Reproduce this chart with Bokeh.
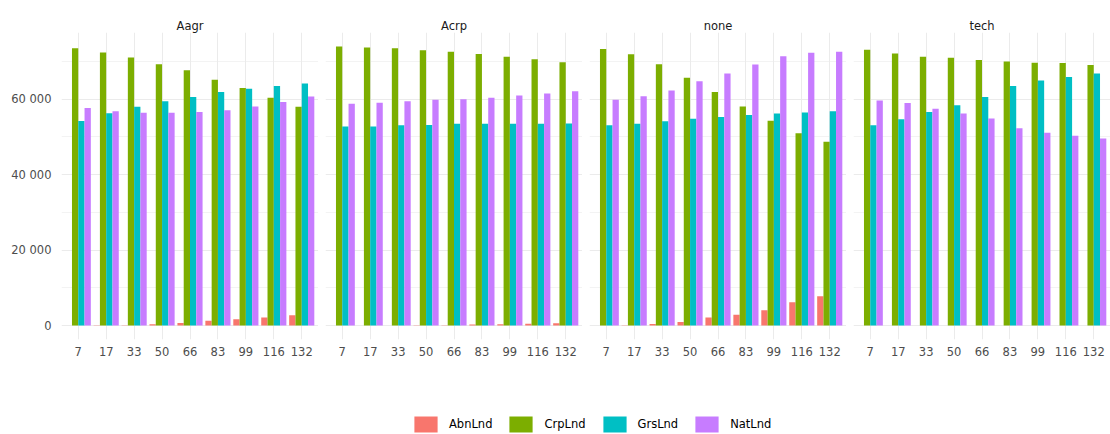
from bokeh.plotting import figure
from bokeh.layouts import row, column
from bokeh.models import (ColumnDataSource, FactorRange, Range1d, FixedTicker)
from bokeh.transform import dodge
from bokeh.embed import file_html
from bokeh.resources import INLINE

# ---------------- data ----------------
panels = ["Aagr", "Acrp", "none", "tech"]
categories = ["7", "17", "33", "50", "66", "83", "99", "116", "132"]
series = ["AbnLnd", "CrpLnd", "GrsLnd", "NatLnd"]
colors = ["#F8766D", "#7CAE00", "#00BFC4", "#C77CFF"]

aagr_abn = [0, 50, 100, 350, 650, 1250, 1700, 2150, 2750]
aagr_crp = [73500, 72400, 71100, 69300, 67700, 65200, 63000, 60400, 58000]
aagr_grs = [54250, 56300, 58000, 59500, 60600, 61900, 62800, 63500, 64200]
aagr_nat = [57700, 56800, 56400, 56400, 56600, 57100, 58100, 59300, 60700]

acrp_abn = [0, 0, 20, 50, 100, 270, 350, 450, 600]
acrp_crp = [74000, 73700, 73500, 73000, 72600, 72000, 71300, 70600, 69800]
acrp_grs = [52800, 52800, 53100, 53200, 53500, 53500, 53500, 53500, 53600]
acrp_nat = [58800, 59100, 59500, 59900, 60000, 60400, 61000, 61500, 62100]

none_abn = [0, 50, 440, 970, 2130, 2840, 4080, 6200, 7800]
none_crp = [73300, 71900, 69300, 65700, 61900, 58100, 54300, 51000, 48700]
none_grs = [53100, 53500, 54200, 54800, 55300, 55800, 56200, 56500, 56800]
none_nat = [59900, 60800, 62300, 64800, 66800, 69200, 71400, 72300, 72600]

tech_abn = [0, 0, 0, 0, 0, 0, 0, 0, 0]
tech_crp = [73100, 72100, 71300, 71000, 70400, 70000, 69700, 69600, 69100]
tech_grs = [53100, 54700, 56600, 58400, 60600, 63500, 65000, 65900, 66800]
tech_nat = [59700, 59000, 57500, 56200, 54900, 52300, 51100, 50300, 49600]

y_ticks = [0, 20000, 40000, 60000]
y_tick_labels = ["0", "20 000", "40 000", "60 000"]
y_minor_ticks = [10000, 30000, 50000, 70000]

panel_data = {
    "Aagr": [aagr_abn, aagr_crp, aagr_grs, aagr_nat],
    "Acrp": [acrp_abn, acrp_crp, acrp_grs, acrp_nat],
    "none": [none_abn, none_crp, none_grs, none_nat],
    "tech": [tech_abn, tech_crp, tech_grs, tech_nat],
}

FONT = "DejaVu Sans"
GRID = "#ebebeb"

all_vals = [v for p in panel_data.values() for s in p for v in s]
ymax = max(all_vals)
ypad = 0.05 * ymax

bar_w = 0.9 / len(series)
offsets = [(-0.45 + bar_w * (i + 0.5)) for i in range(len(series))]

figs = []
for k, name in enumerate(panels):
    first = (k == 0)
    p = figure(
        title=name,
        x_range=FactorRange(factors=categories, range_padding=0.1,
                            range_padding_units="absolute"),
        y_range=Range1d(-ypad, ymax + ypad),
        frame_width=257, frame_height=307,
        min_border_left=61 if first else 7,
        min_border_right=0, min_border_top=32, min_border_bottom=30,
        y_axis_location="left" if first else None,
        toolbar_location=None, output_backend="svg",
        outline_line_color=None, background_fill_color="white",
        border_fill_color="white",
    )
    src = ColumnDataSource(dict(cat=categories,
                                **{s: v for s, v in zip(series, panel_data[name])}))
    for s, c, off in zip(series, colors, offsets):
        p.vbar(x=dodge("cat", off, range=p.x_range), top=s, bottom=0,
               width=bar_w, source=src, fill_color=c, line_color=None)

    p.title.align = "center"
    p.title.text_font = FONT
    p.title.text_font_size = "11.5px"
    p.title.text_font_style = "normal"
    p.title.text_color = "#1a1a1a"
    p.title.standoff = 0

    p.xaxis.axis_line_color = None
    p.xaxis.major_tick_line_color = None
    p.xaxis.minor_tick_line_color = None
    p.xaxis.major_tick_out = 0
    p.xaxis.major_tick_in = 0
    p.xaxis.major_label_standoff = 7
    p.xaxis.major_label_text_font = FONT
    p.xaxis.major_label_text_font_size = "11.5px"
    p.xaxis.major_label_text_color = "#4d4d4d"

    if first:
        p.yaxis.ticker = FixedTicker(ticks=y_ticks, minor_ticks=y_minor_ticks)
        p.yaxis.major_label_overrides = dict(zip(y_ticks, y_tick_labels))
        p.yaxis.axis_line_color = None
        p.yaxis.major_tick_line_color = None
        p.yaxis.minor_tick_line_color = None
        p.yaxis.major_tick_out = 0
        p.yaxis.major_tick_in = 0
        p.yaxis.major_label_standoff = 6
        p.yaxis.major_label_text_font = FONT
        p.yaxis.major_label_text_font_size = "11.5px"
        p.yaxis.major_label_text_color = "#4d4d4d"

    p.ygrid.ticker = FixedTicker(ticks=y_ticks, minor_ticks=y_minor_ticks)
    p.ygrid.grid_line_color = GRID
    p.ygrid.grid_line_width = 1
    p.ygrid.minor_grid_line_color = GRID
    p.ygrid.minor_grid_line_width = 0.6
    p.xgrid.grid_line_color = GRID
    p.xgrid.grid_line_width = 1
    p.ygrid.level = "underlay"
    p.xgrid.level = "underlay"
    figs.append(p)

# ---------------- legend ----------------
leg = figure(width=1110, height=65, x_range=Range1d(0, 1), y_range=Range1d(0, 1),
             toolbar_location=None, output_backend="svg", min_border=0,
             x_axis_location=None, y_axis_location=None, outline_line_color=None)
leg.grid.visible = False
for s, c in zip(series, colors):
    leg.vbar(x=[-5], top=[-5], bottom=[-6], width=0.1, fill_color=c,
             line_color=None, legend_label=s)
lg = leg.legend[0]
lg.orientation = "horizontal"
lg.location = (411, 0)
lg.padding = 0
lg.margin = 0
lg.spacing = 14
lg.glyph_width = 29
lg.glyph_height = 20
lg.label_height = 20
lg.label_standoff = 9
lg.label_text_font = FONT
lg.label_text_font_size = "11.5px"
lg.label_text_color = "#000000"
lg.border_line_color = None
lg.background_fill_alpha = 0

layout = column(row(*figs, spacing=0), leg, spacing=0)

open("out.html", "w").write(file_html(layout, INLINE))
